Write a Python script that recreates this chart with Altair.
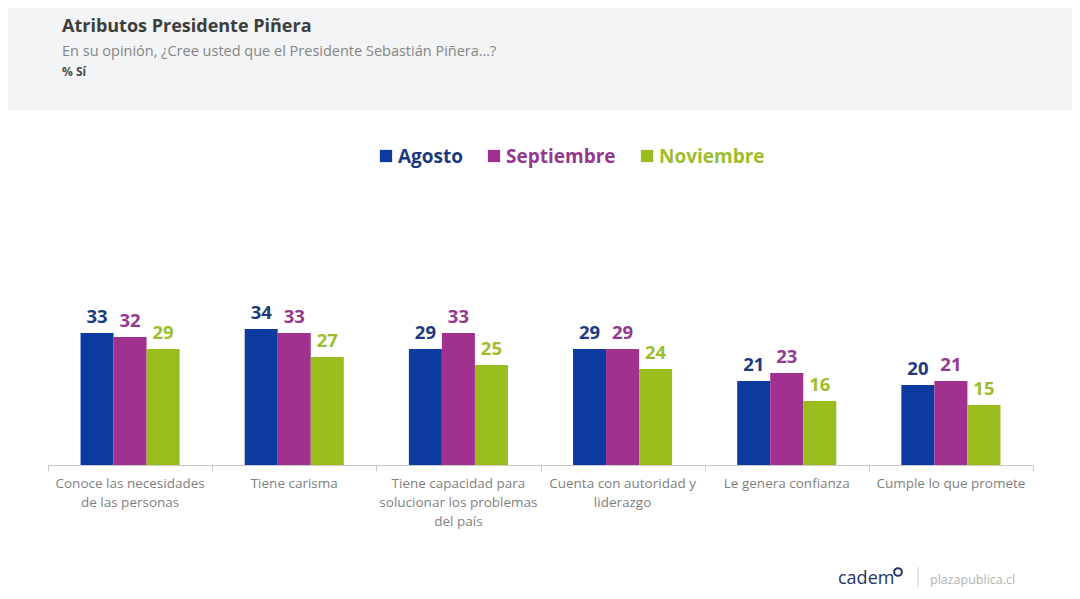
import altair as alt
import pandas as pd

title_text = "Atributos Presidente Piñera"
subtitle_text = "En su opinión, ¿Cree usted que el Presidente Sebastián Piñera…?"
unit_text = "% Sí"
brand_text = "cadem"
source_text = "plazapublica.cl"

categories = [
    "Conoce las necesidades\nde las personas",
    "Tiene carisma",
    "Tiene capacidad para\nsolucionar los problemas\ndel país",
    "Cuenta con autoridad y\nliderazgo",
    "Le genera confianza",
    "Cumple lo que promete",
]
series = ["Agosto", "Septiembre", "Noviembre"]
agosto = [33, 34, 29, 29, 21, 20]
septiembre = [32, 33, 33, 29, 23, 21]
noviembre = [29, 27, 25, 24, 16, 15]

bar_colors = ["#0c3a9e", "#a1318f", "#98bd1c"]
label_colors = ["#1d3a7e", "#943890", "#9dbd2c"]

FONT = "Open Sans"

rows = []
for s, vals in zip(series, [agosto, septiembre, noviembre]):
    for c, v in zip(categories, vals):
        rows.append({"cat": c, "series": s, "value": v})
df = pd.DataFrame(rows)
cat_df = pd.DataFrame({"cat": categories})
one = pd.DataFrame({"k": [0]})

W, H = 985, 345
xscale = alt.Scale(domain=categories, paddingInner=0, paddingOuter=0)
xoff = alt.XOffset("series:N", sort=series,
                   scale=alt.Scale(domain=series, paddingInner=0, paddingOuter=0.985))
yscale = alt.Scale(domain=[0, 86.25], nice=False, zero=True)

bars = alt.Chart(df).mark_bar(size=33).encode(
    x=alt.X("cat:N", sort=categories, scale=xscale,
            axis=alt.Axis(title=None, labels=False, tickBand="extent", grid=False,
                          domainColor="#c9c9c9", tickColor="#c9c9c9", tickSize=6,
                          domainWidth=1)),
    xOffset=xoff,
    y=alt.Y("value:Q", scale=yscale, axis=None),
    color=alt.Color("series:N", sort=series,
                    scale=alt.Scale(domain=series, range=bar_colors), legend=None),
)

values = alt.Chart(df).mark_text(font=FONT, fontSize=18.5, fontWeight="bold",
                                 baseline="bottom", dy=-6).encode(
    x=alt.X("cat:N", sort=categories, scale=xscale),
    xOffset=xoff,
    y=alt.Y("value:Q", scale=yscale),
    text=alt.Text("value:Q"),
    color=alt.Color("series:N", sort=series,
                    scale=alt.Scale(domain=series, range=label_colors), legend=None),
)

cat_labels = alt.Chart(cat_df).mark_text(font=FONT, fontSize=13.5, color="#7f7f7f",
                                         baseline="top", lineBreak="\n",
                                         lineHeight=19).encode(
    x=alt.X("cat:N", sort=categories, scale=xscale),
    y=alt.value(357),
    text="cat:N",
)

# manual legend (square + coloured bold label per series)
legend_layers = []
legend_square_x = [338, 446, 599]
for s, bc, lc, lx in zip(series, bar_colors, label_colors, legend_square_x):
    legend_layers.append(
        alt.Chart(one).mark_square(size=150, color=bc, opacity=1).encode(
            x=alt.value(lx), y=alt.value(36)))
    legend_layers.append(
        alt.Chart(one).mark_text(text=s, font=FONT, fontSize=19, fontWeight="bold",
                                 color=lc, align="left", baseline="middle").encode(
            x=alt.value(lx + 12), y=alt.value(37)))

header_bg = alt.Chart(one).mark_rect(color="#f3f4f6").encode(
    x=alt.value(-40), x2=alt.value(1030), y=alt.value(-112), y2=alt.value(-10))
title = alt.Chart(one).mark_text(text=title_text, font=FONT, fontSize=18,
                                 fontWeight="bold", color="#3d3d3d", align="left",
                                 baseline="alphabetic").encode(
    x=alt.value(14), y=alt.value(-88))
subtitle = alt.Chart(one).mark_text(text=subtitle_text, font=FONT, fontSize=14.5,
                                    color="#858585", align="left",
                                    baseline="alphabetic").encode(
    x=alt.value(14), y=alt.value(-64))
unit = alt.Chart(one).mark_text(text=unit_text, font=FONT, fontSize=12,
                                fontWeight="bold", color="#4a4a4a", align="left",
                                baseline="alphabetic").encode(
    x=alt.value(14), y=alt.value(-44))

brand = alt.Chart(one).mark_text(text=brand_text, font=FONT, fontSize=18,
                                 color="#243463", align="left",
                                 baseline="alphabetic").encode(
    x=alt.value(790), y=alt.value(464))
ring = alt.Chart(one).mark_point(shape="circle", filled=False, size=60,
                                 strokeWidth=2, color="#243463", opacity=1).encode(
    x=alt.value(850), y=alt.value(452))
sep = alt.Chart(one).mark_rule(color="#d0d0d0", strokeWidth=1).encode(
    x=alt.value(870), y=alt.value(447), y2=alt.value(467))
source = alt.Chart(one).mark_text(text=source_text, font=FONT, fontSize=12.5,
                                  color="#b3b3b3", align="left",
                                  baseline="alphabetic").encode(
    x=alt.value(882), y=alt.value(464))

chart = alt.layer(
    header_bg, title, subtitle, unit, bars, values, cat_labels, *legend_layers,
    brand, ring, sep, source
).resolve_scale(color="independent").properties(
    width=W, height=H,
    padding={"left": 40, "top": 112, "right": 39, "bottom": 124},
    autosize=alt.AutoSizeParams(type="none"),
    background="white",
).configure_view(stroke=None)

chart.save("out.html", embed_options={"renderer": "svg", "actions": False})
